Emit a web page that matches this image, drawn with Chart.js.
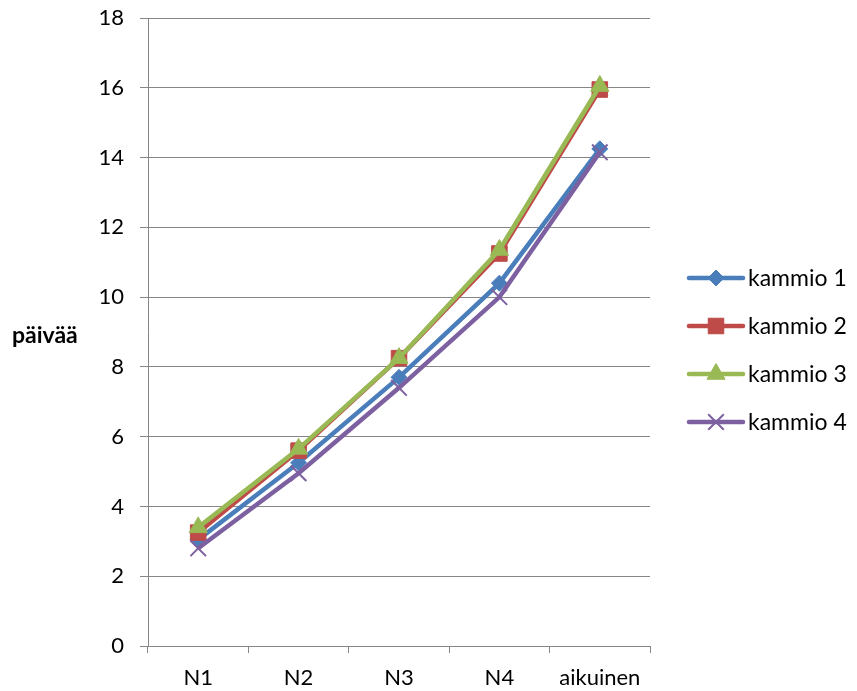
<!DOCTYPE html>
<html>
<head>
<meta charset="utf-8">
<script src="https://cdn.jsdelivr.net/npm/chart.js@4"></script>
<style>
  html, body { margin: 0; padding: 0; background: #fff; }
  #wrap { width: 857px; height: 691px; }
</style>
</head>
<body>
<div id="wrap"><canvas id="chart" width="857" height="691"></canvas></div>
<script>
// data
var stages = ['N1', 'N2', 'N3', 'N4', 'aikuinen'];
var seriesNames = ['kammio 1', 'kammio 2', 'kammio 3', 'kammio 4'];
var kammio1 = [3.05, 5.25, 7.7, 10.4, 14.25];
var kammio2 = [3.25, 5.6, 8.25, 11.25, 15.95];
var kammio3 = [3.4, 5.65, 8.25, 11.35, 16.05];
var kammio4 = [2.8, 4.95, 7.4, 10.0, 14.15];
var yTitle = 'päivää';

var colors = ['#4A7EBB', '#BE4B48', '#98B954', '#7D60A0'];
var markers = ['rectRot', 'rect', 'triangle', 'crossRot'];
var markerSize = [8, 11, 10.5, 11];
var values = [kammio1, kammio2, kammio3, kammio4];

var FONT = 'Lato';
var gridColor = '#868686';

var datasets = values.map(function (v, i) {
    return {
        label: seriesNames[i],
        data: v,
        borderColor: colors[i],
        backgroundColor: colors[i],
        borderWidth: 4.5,
        pointStyle: markers[i],
        pointRadius: markerSize[i],
        pointHoverRadius: markerSize[i],
        pointBackgroundColor: colors[i],
        pointBorderColor: colors[i],
        pointBorderWidth: i === 3 ? 2 : 1,
        tension: 0,
        order: 4 - i   // later series on top, like the original
    };
});

// legend on the right + horizontal y title, drawn by hand
var extras = {
    id: 'extras',
    afterDraw: function (chart) {
        var ctx = chart.ctx;
        ctx.save();
        ctx.fillStyle = '#000';
        ctx.font = 'bold 23px ' + FONT;
        ctx.textAlign = 'left';
        ctx.textBaseline = 'middle';
        ctx.fillText(yTitle, 12, 336);

        var x0 = 689, x1 = 743, xm = 716;
        var ys = [278, 326, 374, 422];
        ctx.font = '23px ' + FONT;
        seriesNames.forEach(function (name, i) {
            var y = ys[i];
            ctx.strokeStyle = colors[i];
            ctx.lineWidth = 4.5;
            ctx.lineCap = 'round';
            ctx.beginPath();
            ctx.moveTo(x0, y);
            ctx.lineTo(x1, y);
            ctx.stroke();
            ctx.lineCap = 'butt';
            ctx.fillStyle = colors[i];
            ctx.lineWidth = i === 3 ? 2 : 1;
            Chart.helpers.drawPoint(ctx, {
                pointStyle: markers[i],
                radius: markerSize[i],
                rotation: 0,
                borderWidth: i === 3 ? 2 : 1
            }, xm, y);
            ctx.fillStyle = '#000';
            ctx.fillText(name, 748, y + 1);
        });
        ctx.restore();
    }
};

new Chart(document.getElementById('chart'), {
    type: 'line',
    data: { labels: stages, datasets: datasets },
    options: {
        responsive: false,
        animation: false,
        layout: { padding: { top: 18, right: 207, left: 0, bottom: 0 } },
        plugins: {
            legend: { display: false },
            tooltip: { enabled: false },
            title: { display: false }
        },
        scales: {
            x: {
                type: 'category',
                offset: true,
                afterFit: function (s) {
                    s.height = 45;
                    s.paddingLeft = 0;
                    s.paddingRight = 0;
                },
                grid: {
                    offset: true,
                    drawOnChartArea: false,
                    drawTicks: true,
                    tickLength: 7,
                    color: gridColor,
                    lineWidth: 1
                },
                border: { display: true, color: gridColor, width: 1 },
                ticks: {
                    padding: 12,
                    color: '#000',
                    font: { family: FONT, size: 22 },
                    maxRotation: 0
                }
            },
            y: {
                min: 0,
                max: 18,
                afterFit: function (s) {
                    s.width = 148;
                    s.paddingTop = 0;
                    s.paddingBottom = 0;
                },
                grid: {
                    color: gridColor,
                    lineWidth: 1,
                    drawTicks: true,
                    tickLength: 8
                },
                border: { display: true, color: gridColor, width: 1 },
                ticks: {
                    stepSize: 2,
                    padding: 16,
                    color: '#000',
                    font: { family: FONT, size: 22 }
                }
            }
        }
    },
    plugins: [extras]
});
</script>
</body>
</html>
